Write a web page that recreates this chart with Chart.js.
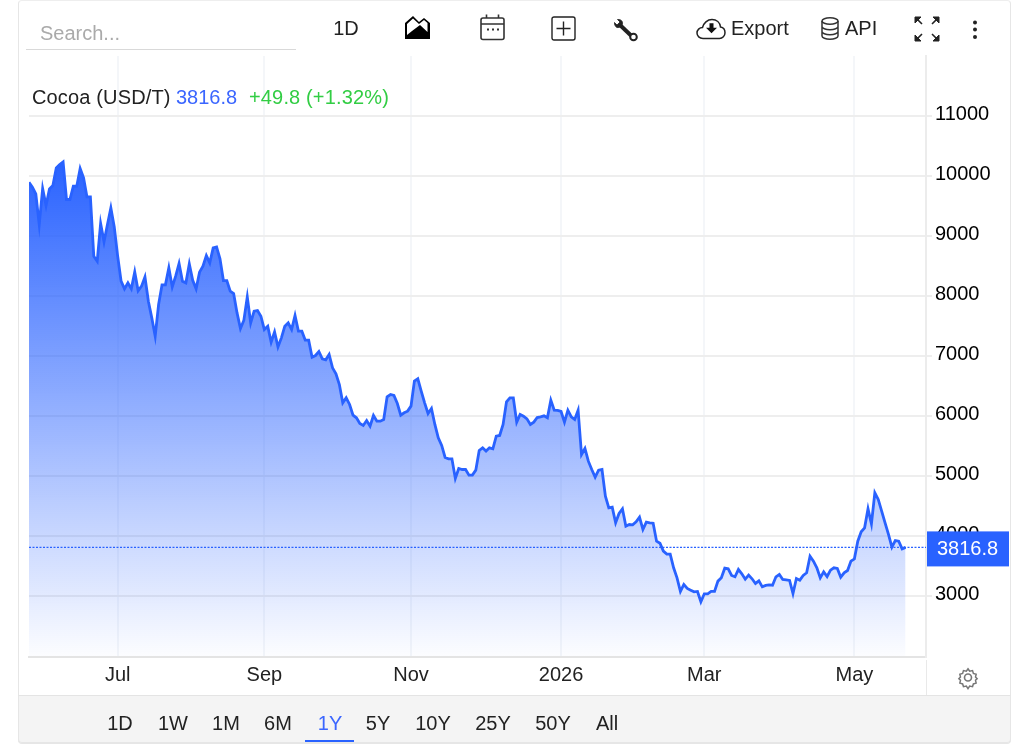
<!DOCTYPE html>
<html><head><meta charset="utf-8">
<script src="https://cdn.jsdelivr.net/npm/chart.js@4"></script>
<style>
html,body{margin:0;padding:0;background:#fff;width:1036px;height:750px;overflow:hidden;font-family:"Liberation Sans",Arial,sans-serif;color:#222}
#card{position:absolute;left:18px;top:0;width:991px;height:742px;border:1px solid #e6e6e6;border-top-color:#eee;border-radius:4px;box-sizing:content-box}
#bar{position:absolute;left:18px;top:695px;width:993px;height:48px;background:#f4f4f4;border:1px solid #e6e6e6;border-top:1px solid #e4e4e4;border-radius:0 0 4px 4px;box-sizing:border-box}
canvas{position:absolute;left:0;top:0}
.t{position:absolute;font-size:20px;line-height:24px;white-space:nowrap}
.c{transform:translateX(-50%)}
svg{position:absolute;overflow:visible}
#divider{position:absolute;left:926px;top:660px;width:1px;height:35px;background:#e9e9e9}
#searchline{position:absolute;left:26px;top:49px;width:270px;height:1px;background:#d9d9d9}
#underline{position:absolute;left:305px;top:740px;width:49px;height:2px;background:#2962ff}
</style></head>
<body>
<div id="card"></div>
<div id="bar"></div>
<div id="divider"></div>
<canvas id="c" width="1036" height="750"></canvas>

<div class="t" style="left:40px;top:21px;color:#aaa">Search...</div>
<div id="searchline"></div>
<div class="t c" style="left:346px;top:16px">1D</div>

<svg style="left:405px;top:15px" width="25" height="24" viewBox="0 0 25 24"><path d="M0 24V8L8 1l6 6 5-4 6 5v16z" fill="#000"/><path d="M2 20V9L8 3.500 14 9l5-4 3.500 3V17L15 10 7 16z" fill="#fff"/></svg>
<svg style="left:480px;top:14px" width="26" height="27" viewBox="0 0 26 27" fill="none" stroke="#333" stroke-width="1.600"><rect x="1" y="4" width="23" height="21.500" rx="2"/><path d="M1 10h23M6.500 0.500v3.500M18.500 0.500v3.500"/><path d="M7 15.500h2M12 15.500h2M17 15.500h2" stroke-width="2"/></svg>
<svg style="left:551px;top:16px" width="25" height="25" viewBox="0 0 25 25" fill="none" stroke="#222" stroke-width="1.400"><rect x="1" y="1" width="23" height="23" rx="2"/><path d="M12.500 5.500v14M5.500 12.500h14"/></svg>
<svg style="left:614px;top:19px" width="24" height="23" viewBox="0 0 24 23" fill="none" stroke="#222"><path d="M6 6l11 10.500" stroke-width="4"/><path d="M0.500 3.500L3 6l3-3-2.500-2.500C6 0 8.500 1.500 8.500 4c0 3-3 5-5.500 4.500C1.500 8 .2 5.500.5 3.500z" fill="#222" stroke-width=".8"/><circle cx="19.500" cy="18" r="3.300" stroke-width="2" fill="#fff"/></svg>
<svg style="left:696px;top:18px" width="30" height="22" viewBox="0 0 30 22"><path d="M7 20.500C3.500 20.500 1 18 1 15s2.500-5.500 5.500-5.500C7.500 5 11.500 1.500 16 1.500c4.500 0 8 3 8.500 7.500 2.800.500 4.500 3 4.500 5.800 0 3.200-2.500 5.700-5.500 5.700z" fill="none" stroke="#222" stroke-width="1.500"/><path d="M12.500 6.500h4v5h3.500l-5.500 6-5.500-6h3.500z" fill="#111" transform="translate(1 -0.500) scale(1 .9)"/></svg>
<div class="t" style="left:731px;top:16px">Export</div>
<svg style="left:821px;top:17px" width="18" height="23" viewBox="0 0 18 23" fill="none" stroke="#333" stroke-width="1.500"><ellipse cx="9" cy="4" rx="8" ry="3.200"/><path d="M1 4v15c0 1.800 3.600 3.200 8 3.200s8-1.400 8-3.200V4M1 9.500c0 1.800 3.600 3.200 8 3.200s8-1.400 8-3.200M1 14.500c0 1.800 3.600 3.200 8 3.200s8-1.400 8-3.200"/></svg>
<div class="t" style="left:845px;top:16px">API</div>
<svg style="left:914px;top:16px" width="26" height="26" viewBox="0 0 26 26" fill="#222" stroke="#222"><path d="M1 1h6L1 7zM25 1h-6l6 6zM1 25h6l-6-6zM25 25h-6l6-6z"/><path d="M3 3l5 5M23 3l-5 5M3 23l5-5M23 23l-5-5" stroke-width="1.600"/></svg>
<svg style="left:971px;top:20px" width="8" height="20" viewBox="0 0 8 20" fill="#222"><circle cx="4" cy="2.500" r="2"/><circle cx="4" cy="9.500" r="2"/><circle cx="4" cy="17" r="2"/></svg>

<div class="t" style="left:32px;top:85px;letter-spacing:.15px">Cocoa (USD/T)</div>
<div class="t" style="left:176px;top:85px;color:#3b66ff">3816.8</div>
<div class="t" style="left:249px;top:85px;color:#32cd44;letter-spacing:.15px">+49.8 (+1.32%)</div>

<svg style="left:957px;top:666px" width="22" height="23" viewBox="0 0 24 24" fill="none" stroke="#777" stroke-width="1.800"><path d="M12 1.500l2 3 3.500-.800 1 3.400 3.400 1-.800 3.400 2 2-2 2 .800 3.400-3.400 1-1 3.400-3.500-.800-2 3-2-3-3.500.800-1-3.400-3.400-1 .800-3.400-2-2 2-2-.800-3.400 3.400-1 1-3.400 3.500.800z" transform="translate(1.200 1.100) scale(.9)"/><circle cx="12" cy="12" r="3.800"/></svg>

<div class="t c" style="left:120px;top:711px">1D</div>
<div class="t c" style="left:173px;top:711px">1W</div>
<div class="t c" style="left:226px;top:711px">1M</div>
<div class="t c" style="left:278px;top:711px">6M</div>
<div class="t c" style="left:330px;top:711px;color:#3b66ff">1Y</div>
<div class="t c" style="left:378px;top:711px">5Y</div>
<div class="t c" style="left:433px;top:711px">10Y</div>
<div class="t c" style="left:493px;top:711px">25Y</div>
<div class="t c" style="left:553px;top:711px">50Y</div>
<div class="t c" style="left:607px;top:711px">All</div>
<div id="underline"></div>

<script>
const seriesName = "Cocoa (USD/T)";
const priceValues = [
9898,9815,9704,9193,9793,9510,9787,9843,10137,10192,
10237,9610,9610,9832,9832,10126,9970,9654,9654,8666,
8583,9210,8905,9193,9471,9154,8666,8250,8122,8222,
8122,8405,8089,8167,8322,7917,7639,7334,7861,8189,
8189,8472,8155,8333,8544,8250,8222,8538,8266,8122,
8400,8500,8677,8555,8805,8821,8622,8261,8261,8083,
8044,7722,7462,7600,7989,7556,7750,7761,7667,7445,
7500,7234,7406,7156,7306,7500,7556,7445,7678,7417,
7417,7267,7267,6984,7012,7079,6957,6940,7029,6807,
6707,6530,6224,6308,6197,6019,5975,5880,5847,5930,
5836,6014,5919,5919,5947,6324,6363,6347,6213,6019,
6058,6086,6169,6585,6624,6419,6224,6047,6130,5864,
5642,5514,5314,5292,5292,4965,5131,5114,5114,5020,
5020,5103,5431,5475,5420,5475,5459,5670,5681,5864,
6241,6308,6308,5903,6030,6003,5958,5864,5903,5980,
5991,6008,5975,6269,6102,6097,6080,5903,6102,5991,
5947,6102,5364,5464,5253,5114,4987,5103,5114,4670,
4476,4487,4226,4382,4459,4170,4198,4193,4243,4320,
4115,4237,4226,4220,3921,3887,3754,3704,3704,3477,
3310,3083,3199,3133,3105,3077,3083,2911,3044,3044,
3083,3083,3255,3310,3471,3460,3349,3327,3449,3377,
3288,3355,3294,3216,3260,3160,3183,3194,3188,3327,
3366,3283,3277,3266,3049,3299,3271,3349,3394,3671,
3588,3477,3310,3410,3332,3438,3477,3466,3321,3394,
3432,3588,3627,3921,4076,4143,4459,4209,4726,4615,
4421,4226,4034,3821,3931,3921,3793,3816.8];
const tradingDays = priceValues.map((_, i) => i);
const monthLabels = ["Jul","Sep","Nov","2026","Mar","May"];
const monthDays = [26,69,112,156,198,242];
const priceTicks = [3000,4000,5000,6000,7000,8000,9000,10000,11000];
const lastPrice = priceValues[priceValues.length - 1];
const dayAxisEnd = 263;

const BLUE = "#2962ff";
const valueTag = {
  id: "valueTag",
  afterDraw(chart) {
    const y = chart.scales.y.getPixelForValue(lastPrice);
    const c = chart.ctx;
    c.save();
    c.fillStyle = BLUE;
    c.fillRect(927, y - 16, 82, 35);
    c.fillStyle = "#fff";
    c.font = '20px "Liberation Sans", Arial, sans-serif';
    c.textBaseline = "middle";
    c.textAlign = "left";
    c.fillText(String(lastPrice), 937, y + 2);
    c.restore();
  }
};

new Chart(document.getElementById("c"), {
  type: "line",
  data: {
    datasets: [
      {
        label: seriesName,
        data: tradingDays.map((d, i) => ({ x: d, y: priceValues[i] })),
        borderColor: BLUE,
        borderWidth: 2.8,
        pointRadius: 0,
        tension: 0,
        fill: "start",
        backgroundColor(ctx) {
          const { chart } = ctx;
          if (!chart.chartArea) return "rgba(41,98,255,.4)";
          const top = chart.scales.y.getPixelForValue(Math.max(...priceValues));
          const g = chart.ctx.createLinearGradient(0, top, 0, chart.chartArea.bottom);
          g.addColorStop(0, "rgba(41,98,255,1)");
          g.addColorStop(1, "rgba(41,98,255,0.01)");
          return g;
        }
      },
      {
        label: "last",
        data: [{ x: 0, y: lastPrice }, { x: dayAxisEnd, y: lastPrice }],
        borderColor: BLUE,
        borderWidth: 1.2,
        borderDash: [2, 1.5],
        pointRadius: 0,
        fill: false
      }
    ]
  },
  options: {
    responsive: false,
    animation: false,
    devicePixelRatio: 1,
    layout: { padding: { left: 29, top: 56, right: 0, bottom: 0 } },
    plugins: { legend: { display: false }, tooltip: { enabled: false } },
    scales: {
      x: {
        type: "linear",
        min: 0,
        max: dayAxisEnd,
        afterFit(s) { s.height = 93.5; },
        afterBuildTicks(s) { s.ticks = monthDays.map(v => ({ value: v })); },
        grid: { color: "#f4f6f9", lineWidth: 2, drawTicks: false },
        border: { color: "#e4e4e4", width: 2 },
        ticks: {
          autoSkip: false, maxRotation: 0, padding: 7,
          color: "#222",
          font: { family: '"Liberation Sans", Arial, sans-serif', size: 20 },
          callback(v) { return monthLabels[monthDays.indexOf(v)]; }
        }
      },
      y: {
        position: "right",
        min: 2000,
        max: 12000,
        afterFit(s) { s.width = 110; },
        afterBuildTicks(s) { s.ticks = priceTicks.map(v => ({ value: v })); },
        grid: { color: "#eeeeee", lineWidth: 2, tickLength: 6, tickColor: "#eeeeee" },
        border: { color: "#ececec", width: 2 },
        ticks: {
          padding: 3,
          labelOffset: -1.5,
          color: "#000",
          font: { family: '"Liberation Sans", Arial, sans-serif', size: 20 },
          callback(v) { return String(v); }
        }
      }
    }
  },
  plugins: [valueTag]
});
</script>
</body></html>
